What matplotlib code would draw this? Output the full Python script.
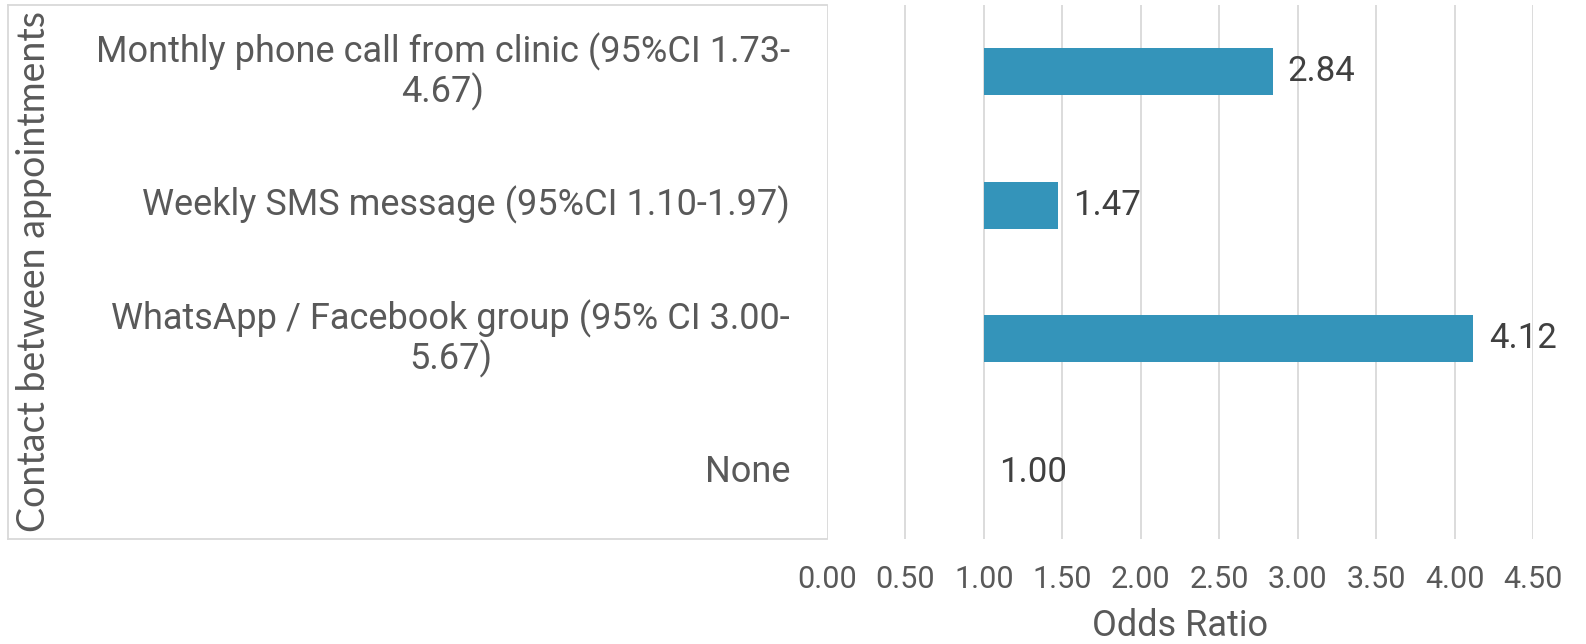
import matplotlib.pyplot as plt
from matplotlib import transforms
from matplotlib.lines import Line2D

# odds ratios vs. "None" (reference = 1.00)
categories = [
    "Monthly phone call from clinic (95%CI 1.73-\n4.67)",
    "Weekly SMS message (95%CI 1.10-1.97)",
    "WhatsApp / Facebook group (95% CI 3.00-\n5.67)",
    "None",
]
odds_ratio = [2.84, 1.47, 4.12, 1.00]
baseline = 1.0
xticks = [0.0, 0.5, 1.0, 1.5, 2.0, 2.5, 3.0, 3.5, 4.0, 4.5]

BAR = "#3494ba"
GRID = "#d9d9d9"
TXT = "#595959"
NARROW = ["Roboto", "DejaVu Sans"]

W, H = 1586, 644
fig = plt.figure(figsize=(W / 100, H / 100), dpi=100)
ax = fig.add_axes([827 / W, 1 - 539 / H, (1533 - 827) / W, (539 - 5) / H])

ypos = list(range(len(categories)))
widths = [v - baseline for v in odds_ratio]
ax.barh(ypos, widths, left=baseline, height=0.35, color=BAR, zorder=2)
for y, v in zip(ypos, odds_ratio):
    ax.annotate(f"{v:.2f}", (v, y), xytext=(11, 0), textcoords="offset points",
                va="center", ha="left", fontsize=25, color="#404040",
                family=NARROW)

ax.set_xlim(0, 4.5)
ax.set_ylim(len(categories) - 0.5, -0.5)
ax.set_xticks(xticks)
ax.set_xticklabels([f"{t:.2f}" for t in xticks], family=NARROW, fontsize=22,
                   color=TXT)
ax.tick_params(axis="x", length=0, pad=19)
ax.set_yticks([])
ax.xaxis.grid(True, color=GRID, lw=1.3, zorder=0)
for s in ax.spines.values():
    s.set_visible(False)
ax.set_xlabel("Odds Ratio", family=NARROW, fontsize=26, color=TXT, labelpad=10)

# category labels sit in a framed box left of the plot
lab_tr = transforms.blended_transform_factory(fig.transFigure, ax.transData)
for y, name in zip(ypos, categories):
    ax.text(790 / W, y, name, transform=lab_tr, ha="right", va="center",
            multialignment="center", fontsize=26, color=TXT, family=NARROW,
            linespacing=1.05, clip_on=False)

x0, x1 = 8 / W, 827 / W
yt, yb = 1 - 5 / H, 1 - 539 / H
for xs, ys in [((x0, x1), (yt, yt)), ((x0, x1), (yb, yb)), ((x0, x0), (yb, yt))]:
    fig.add_artist(Line2D(xs, ys, color=GRID, lw=1.3, transform=fig.transFigure))

fig.text(34 / W, (yt + yb) / 2, "Contact between appointments", rotation=90,
         ha="center", va="center", fontsize=27, color=TXT, family="Lato")

fig.savefig("out.png", dpi=100)
